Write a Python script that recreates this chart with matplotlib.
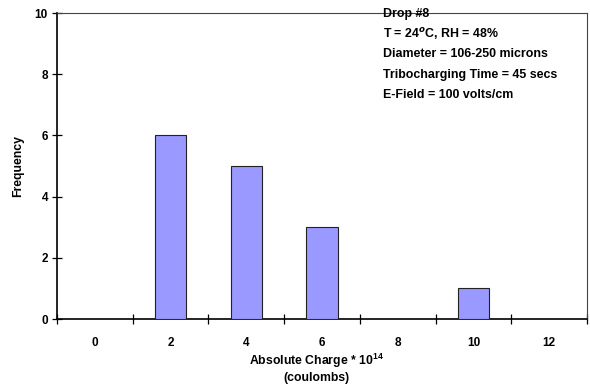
import numpy as np
import matplotlib.pyplot as plt

plt.rcParams['font.family'] = ['Liberation Sans', 'DejaVu Sans']
plt.rcParams['font.weight'] = 'bold'
plt.rcParams['mathtext.fontset'] = 'custom'
plt.rcParams['mathtext.bf'] = 'Liberation Sans:bold'
plt.rcParams['mathtext.rm'] = 'Liberation Sans:bold'

charge = ['0', '2', '4', '6', '8', '10', '12']
frequency = [0, 6, 5, 3, 0, 1, 0]

fig = plt.figure(figsize=(5.9, 3.87), dpi=100)
ax = fig.add_axes([57 / 590, 1 - 319 / 387, 530 / 590, 306 / 387])

x = np.arange(len(charge))
ax.bar(x, frequency, width=0.41, color='#9999FF', edgecolor='#222222', linewidth=0.8, zorder=3)

ax.set_xlim(-0.5, len(charge) - 0.5)
ax.set_ylim(0, 10)
ax.set_yticks([0, 2, 4, 6, 8, 10])
ax.set_xticks(x)
ax.set_xticklabels(charge)
ax.set_xticks(np.arange(-0.5, len(charge), 1), minor=True)
ax.tick_params(axis='x', which='major', length=0, pad=13, labelsize=8.5)
ax.tick_params(axis='x', which='minor', direction='inout', length=7, width=0.9)
ax.tick_params(axis='y', direction='inout', length=7, width=0.9, labelsize=8.5, pad=3)
for lab in ax.get_xticklabels() + ax.get_yticklabels():
    lab.set_fontweight('bold')

for side in ['left', 'bottom']:
    ax.spines[side].set_linewidth(1.2)
for side in ['top', 'right']:
    ax.spines[side].set_linewidth(0.8)
    ax.spines[side].set_color('#444444')

fig.text(18 / 590, 1 - 166 / 387, 'Frequency', rotation=90, fontsize=8.8,
         fontweight='bold', ha='center', va='center')
fig.text(316 / 590, 1 - 361 / 387, 'Absolute Charge * 10$^{14}$', fontsize=8.8,
         fontweight='bold', ha='center', va='center')
fig.text(316 / 590, 1 - 378 / 387, '(coulombs)', fontsize=8.8,
         fontweight='bold', ha='center', va='center')

info = ['Drop #8',
        'T = 24$^{o}$C, RH = 48%',
        'Diameter = 106-250 microns',
        'Tribocharging Time = 45 secs',
        'E-Field = 100 volts/cm']
for i, line in enumerate(info):
    fig.text(383 / 590, 1 - (14 + 20.2 * i) / 387, line, fontsize=8.9, fontweight='bold',
             va='center', ha='left')

fig.savefig('out.png', dpi=100)
